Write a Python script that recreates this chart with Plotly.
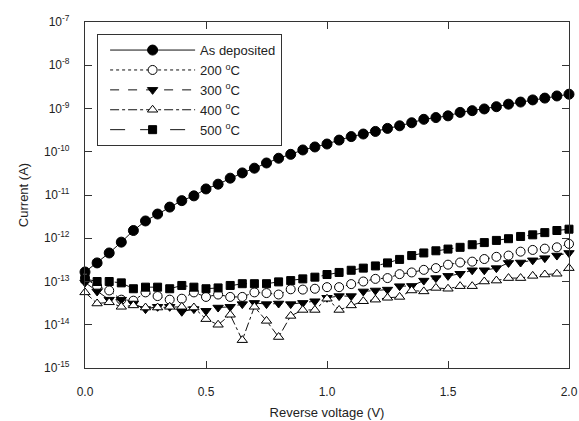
import plotly.graph_objects as go

voltage = [round(0.05 * i, 2) for i in range(41)]

as_deposited = [1.66e-13, 2.69e-13, 4.57e-13, 8.13e-13, 1.51e-12, 2.51e-12, 3.63e-12, 5.25e-12,
                7.41e-12, 9.55e-12, 1.38e-11, 1.78e-11, 2.45e-11, 3.24e-11, 4.17e-11, 5.50e-11,
                7.08e-11, 8.71e-11, 1.10e-10, 1.29e-10, 1.51e-10, 1.86e-10, 2.24e-10, 2.57e-10,
                2.95e-10, 3.47e-10, 3.98e-10, 4.68e-10, 5.62e-10, 6.17e-10, 6.76e-10, 8.13e-10,
                8.91e-10, 9.77e-10, 1.10e-9, 1.26e-9, 1.41e-9, 1.58e-9, 1.74e-9, 1.95e-9, 2.14e-9]

t200 = [1.20e-13, 7.8e-14, 6.2e-14, 3.8e-14, 3.6e-14, 5.6e-14, 4.6e-14, 3.8e-14, 4.0e-14, 5.6e-14,
        4.4e-14, 5.0e-14, 4.4e-14, 4.4e-14, 5.6e-14, 5.4e-14, 5.0e-14, 6.6e-14, 6.5e-14, 6.8e-14,
        7.4e-14, 7.4e-14, 8.7e-14, 1.00e-13, 1.15e-13, 1.20e-13, 1.48e-13, 1.62e-13, 1.86e-13,
        2.04e-13, 2.45e-13, 2.75e-13, 2.88e-13, 3.31e-13, 3.72e-13, 3.98e-13, 4.90e-13, 5.37e-13,
        5.75e-13, 6.17e-13, 7.41e-13]

t300 = [9.5e-14, 5.9e-14, 3.8e-14, 3.8e-14, 3.1e-14, 2.3e-14, 2.6e-14, 2.6e-14, 2.0e-14, 2.3e-14,
        2.1e-14, 2.5e-14, 2.6e-14, 3.0e-14, 3.2e-14, 3.0e-14, 3.1e-14, 3.0e-14, 3.2e-14, 3.5e-14,
        4.2e-14, 4.6e-14, 4.6e-14, 5.9e-14, 6.2e-14, 6.5e-14, 7.8e-14, 7.9e-14, 1.05e-13, 1.20e-13,
        1.35e-13, 1.51e-13, 1.82e-13, 1.82e-13, 2.04e-13, 2.69e-13, 2.75e-13, 3.09e-13, 3.47e-13,
        3.98e-13, 4.57e-13]

t400 = [5.6e-14, 3.1e-14, 3.3e-14, 2.6e-14, 2.8e-14, 2.5e-14, 2.5e-14, 2.6e-14, 2.6e-14, 2.5e-14,
        1.35e-14, 1.0e-14, 1.7e-14, 4.4e-15, 2.6e-14, 1.23e-14, 5.2e-15, 1.6e-14, 2.2e-14, 2.2e-14,
        4.0e-14, 2.2e-14, 2.8e-14, 3.5e-14, 3.8e-14, 4.2e-14, 4.4e-14, 6.2e-14, 5.9e-14, 7.1e-14,
        6.8e-14, 7.8e-14, 7.8e-14, 1.0e-13, 1.05e-13, 1.20e-13, 1.20e-13, 1.35e-13, 1.45e-13,
        1.51e-13, 2.04e-13]

t500 = [1.15e-13, 1.00e-13, 1.00e-13, 9.3e-14, 6.8e-14, 7.4e-14, 7.4e-14, 6.8e-14, 8.1e-14, 7.4e-14,
        6.8e-14, 7.1e-14, 8.1e-14, 8.9e-14, 8.9e-14, 8.9e-14, 9.8e-14, 1.05e-13, 1.15e-13, 1.26e-13,
        1.45e-13, 1.62e-13, 1.82e-13, 2.04e-13, 2.29e-13, 2.69e-13, 3.24e-13, 3.98e-13, 4.57e-13,
        5.13e-13, 5.62e-13, 6.17e-13, 7.08e-13, 7.94e-13, 8.91e-13, 9.77e-13, 1.10e-12, 1.20e-12,
        1.35e-12, 1.51e-12, 1.62e-12]

series_names = ["As deposited", "200 <sup>o</sup>C", "300 <sup>o</sup>C", "400 <sup>o</sup>C", "500 <sup>o</sup>C"]
x_ticks = [0.0, 0.5, 1.0, 1.5, 2.0]
y_exponents = [-15, -14, -13, -12, -11, -10, -9, -8, -7]

styles = [
    dict(symbol="circle", fill="black", dash="solid", size=10),
    dict(symbol="circle", fill="white", dash="dot", size=9),
    dict(symbol="triangle-down", fill="black", dash="dash", size=9),
    dict(symbol="triangle-up", fill="white", dash="dashdot", size=9),
    dict(symbol="square", fill="black", dash="longdash", size=8),
]
data = [as_deposited, t200, t300, t400, t500]

fig = go.Figure()
for name, ys, st in zip(series_names, data, styles):
    fig.add_trace(go.Scatter(
        x=voltage, y=ys, name=name, mode="lines+markers",
        cliponaxis=False,
        line=dict(color="#111", width=1, dash=st["dash"]),
        marker=dict(symbol=st["symbol"], size=st["size"], color=st["fill"],
                    line=dict(color="black", width=1)),
    ))

font_family = "Liberation Sans, Arial, sans-serif"
fig.update_layout(
    width=579, height=421,
    margin=dict(l=85, r=10, t=22, b=53),
    paper_bgcolor="white", plot_bgcolor="white",
    font=dict(family=font_family, size=12, color="#222"),
    showlegend=True,
    legend=dict(x=0.025, y=0.965, xanchor="left", yanchor="top",
                bordercolor="#333", borderwidth=1, bgcolor="white",
                font=dict(size=13, family=font_family, color="#222"),
                itemwidth=85, indentation=7, tracegroupgap=0),
    xaxis=dict(range=[0, 2.0], tickvals=x_ticks, tickformat=".1f",
               ticks="inside", ticklen=7, tickcolor="#333", tickwidth=1.2,
               showline=True, linecolor="#333", linewidth=1.2, mirror="ticks",
               showgrid=False, zeroline=False, automargin=False,
               ticklabelstandoff=12,
               title=dict(text="Reverse voltage (V)", font=dict(size=13), standoff=10)),
    yaxis=dict(type="log", range=[-15, -7],
               tickvals=[10.0 ** e for e in y_exponents],
               ticktext=["10<sup>%d</sup>" % e for e in y_exponents],
               ticks="inside", ticklen=7, tickcolor="#333", tickwidth=1.2,
               showline=True, linecolor="#333", linewidth=1.2, mirror="ticks",
               showgrid=False, zeroline=False, automargin=False,
               ticklabelstandoff=12,
               title=dict(text="Current (A)", font=dict(size=13), standoff=12)),
)

fig.write_html("out.html", config={"displayModeBar": False},
               post_script="document.body.style.margin='0';")
